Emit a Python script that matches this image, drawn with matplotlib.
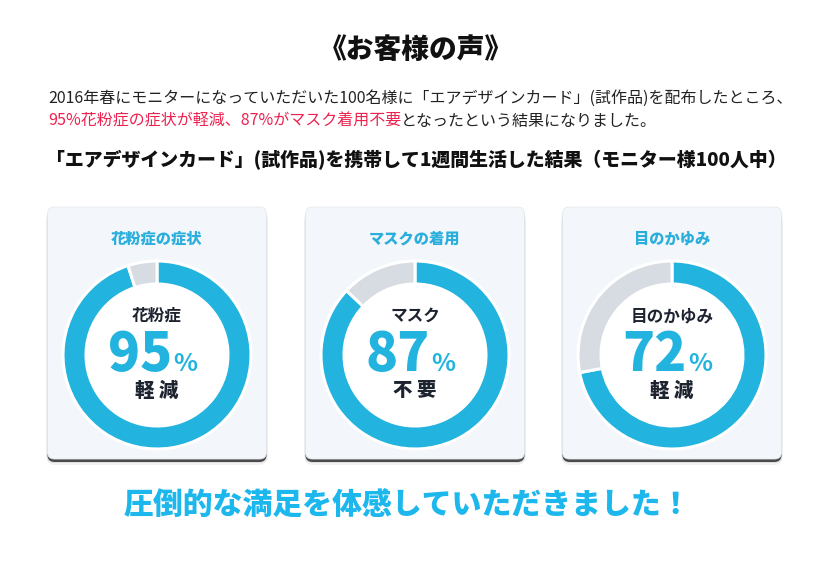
import matplotlib.pyplot as plt
from matplotlib.patches import FancyBboxPatch, Circle

plt.rcParams['font.family'] = ['Noto Sans CJK JP', 'DejaVu Sans']

W, H = 828, 571

title = "《お客様の声》"
intro_1 = "2016年春にモニターになっていただいた100名様に「エアデザインカード」(試作品)を配布したところ、"
intro_2_red = "95%花粉症の症状が軽減、87%がマスク着用不要"
intro_2_black = "となったという結果になりました。"
heading = "「エアデザインカード」(試作品)を携帯して1週間生活した結果（モニター様100人中）"
footer = "圧倒的な満足を体感していただきました！"

card_titles = ["花粉症の症状", "マスクの着用", "目のかゆみ"]
inner_labels = ["花粉症", "マスク", "目のかゆみ"]
results = ["軽 減", "不 要", "軽 減"]
percents = [95, 87, 72]

blue = "#22b3df"
grey = "#d6dce2"
card_bg = "#f3f6fa"
dark = "#1d2430"
red = "#ee2250"


def Y(y):
    return H - y


fig = plt.figure(figsize=(W / 100, H / 100), dpi=100)
ax = fig.add_axes([0, 0, 1, 1])

card_x = [157, 415, 672]
card_w, card_h = 219, 252
card_top = 207

for i, cx in enumerate(card_x):
    x0 = cx - card_w / 2
    # shadow
    for k, a in [(6, 0.05), (4, 0.08)]:
        ax.add_patch(FancyBboxPatch((x0 - 1, Y(card_top + card_h + k)), card_w + 2, card_h,
                                    boxstyle="round,pad=0,rounding_size=8",
                                    fc="#000000", ec="none", alpha=a, zorder=1))
    ax.add_patch(FancyBboxPatch((x0, Y(card_top + card_h + 3)), card_w, card_h,
                                boxstyle="round,pad=0,rounding_size=7",
                                fc="#4a4a4a", ec="none", zorder=2))
    ax.add_patch(FancyBboxPatch((x0, Y(card_top + card_h)), card_w, card_h,
                                boxstyle="round,pad=0,rounding_size=7",
                                fc=card_bg, ec="#e6e9ee", lw=0.6, zorder=3))

    cy = Y(355)
    p = percents[i]
    ax.pie([p, 100 - p], colors=[blue, grey], startangle=90, counterclock=False,
           radius=94, center=(cx, cy),
           wedgeprops=dict(width=23, edgecolor="white", linewidth=2.2, zorder=4))
    ax.add_patch(Circle((cx, cy), 71.5, fc="white", ec="none", zorder=5))

    ax.text(cx, Y(239), card_titles[i], ha="center", va="center", fontsize=11,
            fontweight="heavy", color="#2aaedc", zorder=6)
    ax.text(cx, Y(316), inner_labels[i], ha="center", va="center", fontsize=12,
            fontweight="bold", color=dark, zorder=6)
    ax.text(cx + 15, Y(371), str(p), ha="right", va="baseline", fontsize=38,
            fontweight="heavy", color=blue, zorder=6)
    ax.text(cx + 16, Y(371), "%", ha="left", va="baseline", fontsize=18,
            fontweight="bold", color=blue, zorder=6)
    ax.text(cx, Y(391), results[i], ha="center", va="center", fontsize=14,
            fontweight="heavy", color=dark, zorder=6)

ax.set_xlim(0, W)
ax.set_ylim(0, H)
ax.set_aspect("equal")
ax.axis("off")

ax.text(W / 2 + 2, Y(50), title, ha="center", va="center", fontsize=20,
        fontweight="heavy", color="#111111")
ax.text(48, Y(98), intro_1, ha="left", va="center", fontsize=11.5, color="#222222")
t = ax.text(48, Y(121), intro_2_red, ha="left", va="center", fontsize=11.5, color=red)
fig.canvas.draw()
bb = t.get_window_extent().transformed(ax.transData.inverted())
ax.text(bb.x1, Y(121), intro_2_black, ha="left", va="center", fontsize=11.5, color="#222222")
ax.text(46, Y(160), heading, ha="left", va="center", fontsize=13.6,
        fontweight="heavy", color="#111111")
ax.text(W / 2 - 6, Y(505), footer, ha="center", va="center", fontsize=21.5,
        fontweight="heavy", color="#1cb7ec")

fig.savefig("out.png", dpi=100, facecolor="white")
